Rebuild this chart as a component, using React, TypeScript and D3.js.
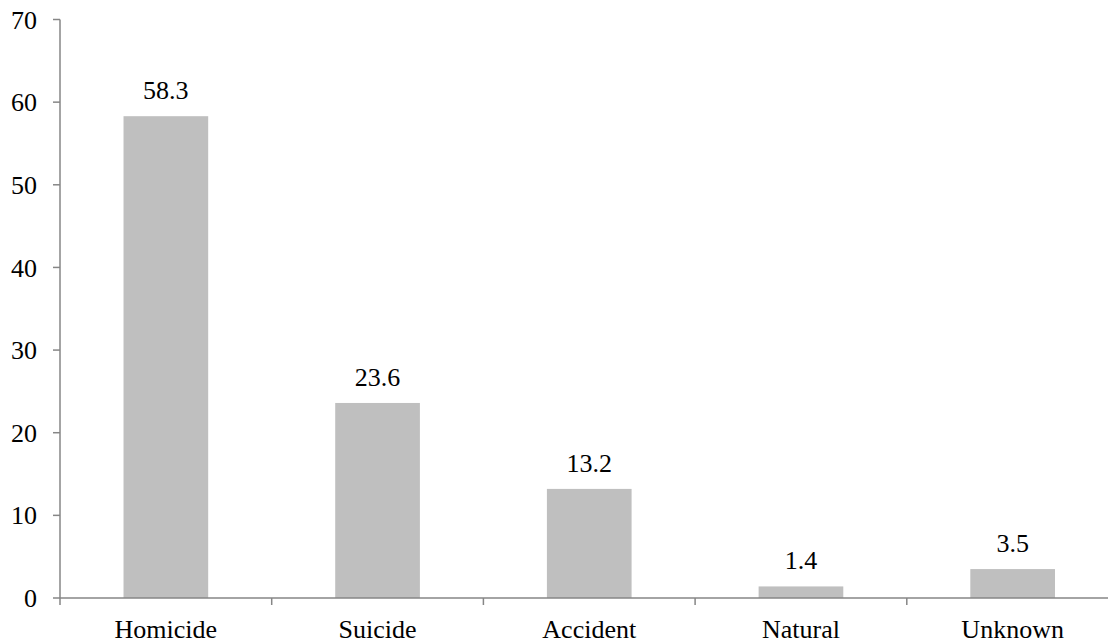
import React from "react";
import * as d3 from "d3";

const categories = ["Homicide", "Suicide", "Accident", "Natural", "Unknown"];
const values = [58.3, 23.6, 13.2, 1.4, 3.5];
const yTicks = [0, 10, 20, 30, 40, 50, 60, 70];

export default function App() {
  const W = 1108, H = 643;
  const left = 60, plotRight = 60 + 5 * 211.7, bottom = 598, top = 19.5;
  const x = d3.scaleBand<string>().domain(categories).range([left, plotRight]).paddingInner(0.6).paddingOuter(0.3);
  const y = d3.scaleLinear().domain([0, 70]).range([bottom, top]);
  const step = x.step();
  const gap = (step - x.bandwidth()) / 2;
  const bounds = categories.map((c) => (x(c) as number) - gap).concat([(x(categories[categories.length - 1]) as number) + x.bandwidth() + gap]);
  const axisColor = "#868686";
  const font = "'Liberation Serif', 'Times New Roman', serif";
  return (
    <svg width={W} height={H} style={{ position: "absolute", left: 0, top: 0, background: "#fff" }} fontFamily={font}>
      {categories.map((c, i) => (
        <rect key={c} x={x(c)} y={y(values[i])} width={x.bandwidth()} height={bottom - y(values[i])} fill="#BFBFBF" />
      ))}
      <line x1={left} x2={left} y1={top} y2={bottom} stroke={axisColor} strokeWidth={1.5} />
      <line x1={left} x2={plotRight} y1={bottom} y2={bottom} stroke={axisColor} strokeWidth={1.5} />
      {yTicks.map((t) => (
        <g key={t}>
          <line x1={53} x2={left} y1={y(t)} y2={y(t)} stroke={axisColor} strokeWidth={1.5} />
          <text x={37} y={y(t)} dy="0.35em" textAnchor="end" fontSize={26} fill="#000">{t}</text>
        </g>
      ))}
      {bounds.map((b, i) => (
        <line key={i} x1={b} x2={b} y1={bottom} y2={bottom + 7} stroke={axisColor} strokeWidth={1.5} />
      ))}
      {categories.map((c) => (
        <text key={c} x={(x(c) as number) + x.bandwidth() / 2} y={638} textAnchor="middle" fontSize={26} fill="#000">{c}</text>
      ))}
      {categories.map((c, i) => (
        <text key={c} x={(x(c) as number) + x.bandwidth() / 2} y={y(values[i]) - 17} textAnchor="middle" fontSize={26} fill="#000">{values[i].toFixed(1)}</text>
      ))}
    </svg>
  );
}
